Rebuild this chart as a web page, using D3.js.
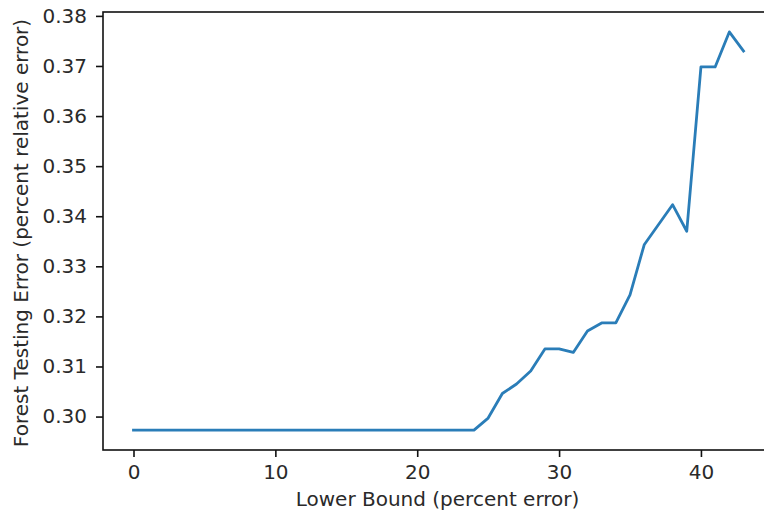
<!DOCTYPE html>
<html>
<head>
<meta charset="utf-8">
<script src="https://cdn.jsdelivr.net/npm/d3@7"></script>
<style>
  html, body { margin: 0; padding: 0; background: #fff; }
  svg { display: block; }
  text { font-family: "DejaVu Sans", sans-serif; fill: #2a2a2a; }
</style>
</head>
<body>
<svg id="chart" width="764" height="511"></svg>
<script>
// ---- data ----
const lowerBound = [0,1,2,3,4,5,6,7,8,9,10,11,12,13,14,15,16,17,18,19,20,21,22,23,24,25,26,27,28,29,30,31,32,33,34,35,36,37,38,39,40,41,42,43];
const testingError = [
  0.2973,0.2973,0.2973,0.2973,0.2973,0.2973,0.2973,0.2973,0.2973,0.2973,
  0.2973,0.2973,0.2973,0.2973,0.2973,0.2973,0.2973,0.2973,0.2973,0.2973,
  0.2973,0.2973,0.2973,0.2973,0.2973,0.2997,0.3046,0.3065,0.3091,0.3135,
  0.3135,0.3128,0.3171,0.3187,0.3187,0.3243,0.3343,0.3383,0.3423,0.3370,
  0.3698,0.3698,0.3768,0.3730
];
const xTicks = [0, 10, 20, 30, 40];
const yTicks = [0.30, 0.31, 0.32, 0.33, 0.34, 0.35, 0.36, 0.37, 0.38];
const xLabel = "Lower Bound (percent error)";
const yLabel = "Forest Testing Error (percent relative error)";

// ---- layout ----
const plotLeft = 103, plotRight = 774, plotTop = 12, plotBottom = 450;
const svg = d3.select("#chart");

function padded(ext) { const m = (ext[1] - ext[0]) * 0.05; return [ext[0] - m, ext[1] + m]; }
const x = d3.scaleLinear().domain(padded(d3.extent(lowerBound))).range([plotLeft, plotRight]);
const y = d3.scaleLinear().domain(padded(d3.extent(testingError))).range([plotBottom, plotTop]);

// line
const line = d3.line().x((d, i) => x(lowerBound[i])).y(d => y(d));
svg.append("path")
  .datum(testingError)
  .attr("d", line)
  .attr("fill", "none")
  .attr("stroke", "#2a7db8")
  .attr("stroke-width", 2.8)
  .attr("stroke-linejoin", "round")
  .attr("stroke-linecap", "square");

// frame
svg.append("rect")
  .attr("x", plotLeft).attr("y", plotTop)
  .attr("width", plotRight - plotLeft).attr("height", plotBottom - plotTop)
  .attr("fill", "none").attr("stroke", "#111").attr("stroke-width", 1.6);

// axes
const xAxis = d3.axisBottom(x).tickValues(xTicks).tickFormat(d3.format("d"))
  .tickSize(7).tickPadding(7.5).tickSizeOuter(0);
const gx = svg.append("g").attr("transform", `translate(0,${plotBottom})`).call(xAxis);
gx.select(".domain").remove();

const yAxis = d3.axisLeft(y).tickValues(yTicks).tickFormat(d3.format(".2f"))
  .tickSize(7).tickPadding(9).tickSizeOuter(0);
const gy = svg.append("g").attr("transform", `translate(${plotLeft},0)`).call(yAxis);
gy.select(".domain").remove();

[gx, gy].forEach(g => {
  g.selectAll(".tick line").attr("stroke", "#111").attr("stroke-width", 1.6);
  g.selectAll(".tick text").attr("font-size", 20).attr("font-family", "DejaVu Sans").attr("fill", "#2a2a2a");
});

// labels
svg.append("text")
  .attr("x", (plotLeft + plotRight) / 2 - 1)
  .attr("y", 506)
  .attr("text-anchor", "middle")
  .attr("font-size", 20)
  .text(xLabel);

svg.append("text")
  .attr("transform", `translate(28,${(plotTop + plotBottom) / 2 + 2}) rotate(-90)`)
  .attr("text-anchor", "middle")
  .attr("font-size", 20)
  .text(yLabel);
</script>
</body>
</html>
